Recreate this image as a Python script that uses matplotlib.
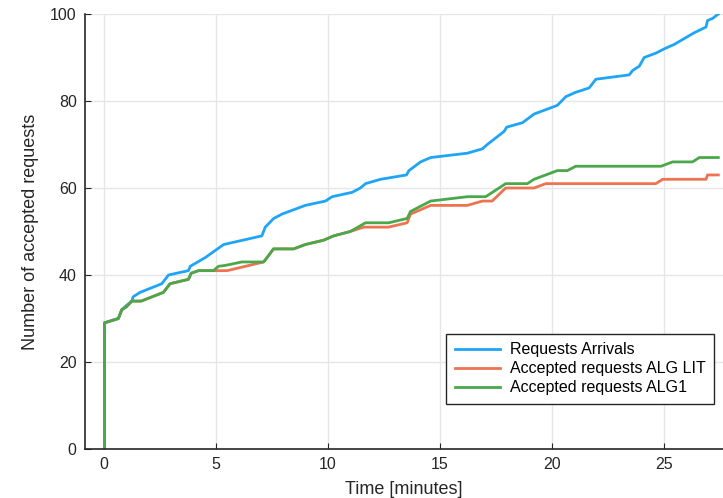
import matplotlib
matplotlib.use("Agg")
from matplotlib import pyplot as plt

# readings from the reference (time in minutes, cumulative count)
t_arr = [0.02, 0.02, 0.64, 0.79, 1.0, 1.24, 1.3, 1.61, 2.58, 2.88, 3.77, 3.85, 4.52, 5.34,
         7.05, 7.2, 7.58, 7.95, 8.99, 9.89, 10.19, 11.08, 11.45, 11.68, 12.35, 13.51,
         13.62, 14.14, 14.59, 16.23, 16.9, 17.12, 17.87, 17.99, 18.69, 19.21, 20.25,
         20.63, 21.07, 21.67, 21.97, 23.46, 23.61, 23.91, 24.13, 24.65, 25.03, 25.47,
         26.0, 26.37, 26.89, 26.96, 27.19, 27.44]
n_arr = [0, 29, 30, 32, 33, 34, 35, 36, 38, 40, 41, 42, 44, 47,
         49, 51, 53, 54, 56, 57, 58, 59, 60, 61, 62, 63,
         64, 66, 67, 68, 69, 70, 73, 74, 75, 77, 79,
         81, 82, 83, 85, 86, 87, 88, 90, 91, 92, 93,
         94.6, 95.7, 97, 98.5, 99, 100]

t_lit = [0.02, 0.02, 0.64, 0.79, 1.0, 1.24, 1.66, 2.65, 2.95, 3.77, 3.89, 4.22, 4.89,
         5.5, 7.13, 7.28, 7.57, 8.47, 8.99, 9.81, 10.26, 11.0, 11.6, 12.7, 13.54,
         13.69, 14.59, 16.23, 16.9, 17.34, 17.94, 19.21, 19.73, 24.65, 24.95, 26.89,
         26.96, 27.44]
n_lit = [0, 29, 30, 32, 32.7, 34, 34, 36, 38, 39, 40.4, 41, 41,
         41, 43, 44, 46, 46, 47, 48, 49, 50, 51, 51, 52,
         54, 56, 56, 57, 57, 60, 60, 61, 61, 62, 62,
         63, 63]

t_alg1 = [0.02, 0.02, 0.64, 0.79, 1.0, 1.24, 1.66, 2.65, 2.95, 3.77, 3.89, 4.22, 4.89,
          5.11, 5.41, 6.16, 7.13, 7.28, 7.57, 8.47, 8.99, 9.81, 10.26, 11.0, 11.68,
          12.72, 13.54, 13.69, 14.59, 16.23, 17.05, 17.94, 18.91, 19.21, 20.25, 20.7,
          21.07, 24.88, 25.4, 26.29, 26.59, 27.44]
n_alg1 = [0, 29, 30, 32, 32.7, 34, 34, 36, 38, 39, 40.4, 41, 41,
          42, 42.2, 43, 43, 44, 46, 46, 47, 48, 49, 50, 52,
          52, 53, 54.6, 57, 58, 58, 61, 61, 62, 64, 64,
          65, 65, 66, 66, 67, 67]

labels = ["Requests Arrivals", "Accepted requests ALG LIT", "Accepted requests ALG1"]
colors = ["#1ea5f5", "#ee7350", "#4aa84a"]

plt.rcParams["font.family"] = ["Liberation Sans", "DejaVu Sans"]

fig = plt.figure(figsize=(7.23, 4.98), dpi=100)
ax = fig.add_axes([0.1176, 0.0984, 0.8824, 0.8735])

ax.plot(t_arr, n_arr, color=colors[0], lw=2, label=labels[0])
ax.plot(t_lit, n_lit, color=colors[1], lw=2, label=labels[1])
ax.plot(t_alg1, n_alg1, color=colors[2], lw=2, label=labels[2])

ax.set_xlim(-0.85, 27.65)
ax.set_ylim(0, 100)
ax.set_xticks([0, 5, 10, 15, 20, 25])
ax.set_yticks([0, 20, 40, 60, 80, 100])
ax.grid(True, color="#e6e6e6", lw=1)
ax.set_axisbelow(True)
for s in ["top", "right"]:
    ax.spines[s].set_visible(False)
for s in ["left", "bottom"]:
    ax.spines[s].set_color("#262626")
    ax.spines[s].set_linewidth(1.2)
ax.tick_params(direction="in", length=4, labelsize=11.5, colors="#262626", pad=6)

ax.set_xlabel("Time [minutes]", fontsize=13, color="#262626", labelpad=6)
ax.set_ylabel("Number of accepted requests", fontsize=13, color="#262626", labelpad=8)

leg = ax.legend(loc="lower right", bbox_to_anchor=(0.986, 0.103), fontsize=11.5,
                fancybox=False, framealpha=1, edgecolor="#262626",
                handlelength=2.8, handletextpad=0.6, borderpad=0.55,
                labelspacing=0.25, borderaxespad=0)
leg.get_frame().set_linewidth(1.0)

fig.savefig("out.png", dpi=100)
